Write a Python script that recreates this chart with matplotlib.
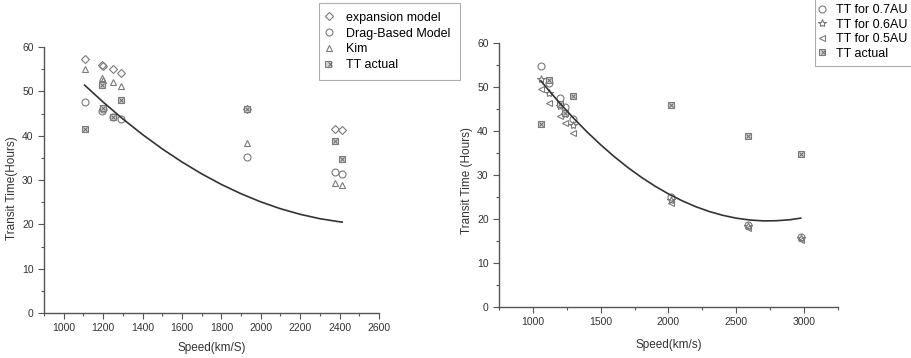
import matplotlib
matplotlib.use("Agg")
import matplotlib.pyplot as plt
from matplotlib.ticker import MultipleLocator
from matplotlib.legend_handler import HandlerTuple

plt.rcParams['font.family'] = ['Liberation Sans', 'DejaVu Sans']

# ---------------- Left panel data ----------------
left_speed = [1106, 1192, 1200, 1248, 1292, 1930, 2379, 2413]
left_expansion = [57.4, 55.9, 55.7, 55.0, 54.2, 46.0, 41.6, 41.3]
left_dbm = [47.5, 45.5, 46.0, 44.2, 43.8, 35.3, 31.7, 31.4]
left_kim = [55.0, 53.0, 52.6, 52.1, 51.1, 38.3, 29.3, 28.8]
left_actual = [41.5, 51.5, 46.2, 44.2, 48.0, 46.0, 38.9, 34.7]

left_fit_x = [1106, 1200, 1300, 1400, 1500, 1600, 1700, 1800, 1900, 2000,
              2100, 2200, 2300, 2400, 2413]
left_fit_y = [51.40, 47.58, 43.78, 40.26, 37.02, 34.07, 31.39, 29.00, 26.90,
              25.07, 23.52, 22.26, 21.27, 20.57, 20.50]

# ---------------- Right panel data ----------------
right_speed = [1059, 1121, 1200, 1235, 1294, 2020, 2585, 2975]
right_07 = [54.8, 51.0, 47.4, 45.5, 42.8, 24.9, 18.7, 16.0]
right_06 = [51.9, 48.7, 45.6, 43.8, 41.3, 24.4, 18.4, 15.7]
right_05 = [49.5, 46.4, 43.4, 41.8, 39.6, 23.6, 17.9, 15.3]
right_actual = [41.5, 51.5, 46.2, 44.2, 48.0, 46.0, 38.9, 34.7]

right_fit_x = [1059, 1100, 1200, 1300, 1400, 1500, 1600, 1700, 1800, 1900,
               2000, 2100, 2200, 2300, 2400, 2500, 2600, 2700, 2800, 2900, 2975]
right_fit_y = [51.40, 49.86, 46.27, 42.91, 39.77, 36.86, 34.17, 31.71, 29.48,
               27.48, 25.70, 24.15, 22.81, 21.71, 20.84, 20.19, 19.77, 19.57,
               19.61, 19.85, 20.20]

MC = '#7a7a7a'
MS = 5
MEW = 0.8
AXC = '#555555'

fig = plt.figure(figsize=(9.12, 3.58), dpi=100)
axL = fig.add_axes([44/912, 45/358, 335/912, 266/358])
axR = fig.add_axes([499/912, 51/358, 339/912, 264/358])


def style(ax):
    for s in ['top', 'right']:
        ax.spines[s].set_visible(False)
    for s in ['left', 'bottom']:
        ax.spines[s].set_color(AXC)
        ax.spines[s].set_linewidth(1.0)
    ax.tick_params(which='both', direction='out', colors=AXC, labelcolor='#333333',
                   labelsize=7.5, width=0.8)
    ax.tick_params(which='major', length=4)
    ax.tick_params(which='minor', length=2.5)
    ax.yaxis.set_major_locator(MultipleLocator(10))
    ax.yaxis.set_minor_locator(MultipleLocator(5))
    ax.set_ylim(0, 60)


def actual_plot(ax, x, y):
    h1, = ax.plot(x, y, linestyle='none', marker='s', ms=MS - 0.5, mfc='#d5d5d5',
                  mec=MC, mew=MEW)
    h2, = ax.plot(x, y, linestyle='none', marker='x', ms=MS - 1.5, mec='#6a6a6a',
                  mew=0.7)
    return (h1, h2)


def open_plot(ax, x, y, marker, ms=MS):
    h, = ax.plot(x, y, linestyle='none', marker=marker, ms=ms, mfc='none',
                 mec=MC, mew=MEW)
    return h


# Left
style(axL)
axL.set_xlim(900, 2600)
axL.xaxis.set_major_locator(MultipleLocator(200))
axL.xaxis.set_minor_locator(MultipleLocator(100))
hd = open_plot(axL, left_speed, left_expansion, 'D', MS - 0.5)
hc = open_plot(axL, left_speed, left_dbm, 'o')
ht = open_plot(axL, left_speed, left_kim, '^')
ha = actual_plot(axL, left_speed, left_actual)
axL.plot(left_fit_x, left_fit_y, color='#333333', lw=1.2)
axL.set_xlabel('Speed(km/S)', fontsize=8.5, color='#333333', labelpad=6)
axL.set_ylabel('Transit Time(Hours)', fontsize=8.5, color='#333333')
axL.yaxis.set_label_coords(-0.077, 0.47)

legL = axL.legend([hd, hc, ht, ha],
                  ['expansion model', 'Drag-Based Model', 'Kim', 'TT actual'],
                  handler_map={tuple: HandlerTuple(ndivide=None, pad=0)},
                  loc='upper left', bbox_to_anchor=(319/912, 1 - 3/358),
                  bbox_transform=fig.transFigure, fontsize=9, frameon=True,
                  fancybox=False, edgecolor='#999999', borderpad=0.7,
                  labelspacing=0.3, handlelength=0.2, handletextpad=1.3,
                  borderaxespad=0)
legL.get_frame().set_linewidth(0.8)

# Right
style(axR)
axR.set_xlim(750, 3250)
axR.xaxis.set_major_locator(MultipleLocator(500))
axR.xaxis.set_minor_locator(MultipleLocator(250))
hc7 = open_plot(axR, right_speed, right_07, 'o')
hs6 = open_plot(axR, right_speed, right_06, '*', MS + 1)
ht5 = open_plot(axR, right_speed, right_05, '<')
ha2 = actual_plot(axR, right_speed, right_actual)
axR.plot(right_fit_x, right_fit_y, color='#333333', lw=1.2)
axR.set_xlabel('Speed(km/s)', fontsize=8.5, color='#333333', labelpad=8)
axR.set_ylabel('Transit Time (Hours)', fontsize=8.5, color='#333333')
axR.yaxis.set_label_coords(-0.076, 0.48)

legR = axR.legend([hc7, hs6, ht5, ha2],
                  ['TT for 0.7AU', 'TT for 0.6AU', 'TT for 0.5AU', 'TT actual'],
                  handler_map={tuple: HandlerTuple(ndivide=None, pad=0)},
                  loc='upper left', bbox_to_anchor=(815/912, 1 + 2/358),
                  bbox_transform=fig.transFigure, fontsize=9, frameon=True,
                  fancybox=False, edgecolor='#999999', borderpad=0.5,
                  labelspacing=0.2, handlelength=0.2, handletextpad=1.0,
                  borderaxespad=0)
legR.get_frame().set_linewidth(0.8)

fig.savefig('out.png', dpi=100, facecolor='white')
